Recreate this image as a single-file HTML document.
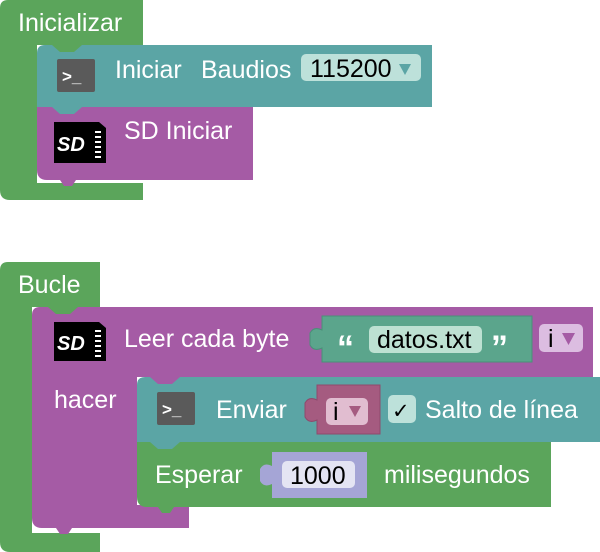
<!DOCTYPE html>
<html><head><meta charset="utf-8"><style>
html,body{margin:0;padding:0;background:#fff;}
svg{display:block;}
text{font-family:"Liberation Sans",sans-serif;font-size:25px;fill:#fff;}
.d{fill:#000;}
</style></head><body>
<svg width="600" height="552" viewBox="0 0 600 552" xmlns="http://www.w3.org/2000/svg">
<!-- Inicializar -->
<path d="M8 0 H143 V45 H37 V183 H143 V200 H10 Q0 200 0 190 V8 Q0 0 8 0Z" fill="#5ba55b"/>
<text x="18" y="31">Inicializar</text>
<!-- teal Iniciar -->
<path d="M45 45 H432 V107 H37 V53 Q37 45 45 45Z" fill="#5ba5a5"/>
<polygon points="52,45 82,45 74,52 60,52" fill="#5ba55b"/>
<rect x="57" y="59" width="38" height="33" rx="2" fill="#5a5a5a"/>
<text x="62" y="82" style="font-size:17px;font-weight:bold">&gt;_</text>
<text x="115" y="78">Iniciar</text>
<text x="201" y="78">Baudios</text>
<rect x="301" y="54" width="120" height="27" rx="5" fill="#bde1da"/>
<text x="310" y="77" class="d">115200</text>
<polygon points="399,64 411,64 405,75" fill="#5ba5a5"/>
<!-- purple SD Iniciar -->
<path d="M37 107 H253 V180 H47 Q37 180 37 170Z" fill="#a55ba5"/>
<polygon points="52,107 82,107 74,114 60,114" fill="#5ba5a5"/>
<polygon points="60,180 76,180 72,186 64,186" fill="#a55ba5"/>
<path d="M54 122 H99 L106 128 V163 H54Z" fill="#000"/>
<text x="57" y="151" style="font-size:20px;font-weight:bold;font-style:italic">SD</text>
<g fill="#fff"><rect x="95" y="131" width="6" height="2"/><rect x="95" y="136" width="6" height="2"/><rect x="95" y="141" width="6" height="2"/><rect x="95" y="146" width="6" height="2"/><rect x="95" y="151" width="6" height="2"/><rect x="95" y="156" width="6" height="2"/></g>
<text x="124" y="139">SD Iniciar</text>

<!-- Bucle -->
<path d="M8 262 H100 V307 H32 V533 H100 V552 H10 Q0 552 0 542 V270 Q0 262 8 262Z" fill="#5ba55b"/>
<text x="18" y="293">Bucle</text>
<!-- purple Leer -->
<path d="M40 307 H593 V377 H137 V505 H189 V528 H42 Q32 528 32 518 V315 Q32 307 40 307Z" fill="#a55ba5"/>
<polygon points="48,307 78,307 70,314 56,314" fill="#5ba55b"/>
<polygon points="56,528 72,528 68,534 60,534" fill="#a55ba5"/>
<path d="M54 322 H99 L106 328 V361 H54Z" fill="#000"/>
<text x="57" y="350" style="font-size:20px;font-weight:bold;font-style:italic">SD</text>
<g fill="#fff"><rect x="95" y="330" width="6" height="2"/><rect x="95" y="335" width="6" height="2"/><rect x="95" y="340" width="6" height="2"/><rect x="95" y="345" width="6" height="2"/><rect x="95" y="350" width="6" height="2"/><rect x="95" y="355" width="6" height="2"/></g>
<text x="124" y="347">Leer cada byte</text>
<text x="54" y="408">hacer</text>
<!-- string block -->
<path d="M322 316 H532 V362 H322 V348 Q314 352 310 345 V333 Q314 326 322 330Z" fill="#5ba58c" stroke="#4a9078" stroke-width="1"/>
<text x="337" y="359" style="font-size:34px;font-weight:bold">“</text>
<rect x="369" y="326" width="113" height="27" rx="5" fill="#bde1d2"/>
<text x="377" y="348" class="d">datos.txt</text>
<text x="491" y="359" style="font-size:34px;font-weight:bold">”</text>
<rect x="539" y="324" width="44" height="28" rx="5" fill="#dcbde1"/>
<text x="548" y="347" class="d">i</text>
<polygon points="562,333 575,333 568.5,345" fill="#a55ba5"/>
<!-- teal Enviar -->
<path d="M145 377 H600 V442 H137 V385 Q137 377 145 377Z" fill="#5ba5a5"/>
<polygon points="150,377 180,377 172,384 158,384" fill="#a55ba5"/>
<rect x="157" y="392" width="38" height="33" rx="2" fill="#5a5a5a"/>
<text x="162" y="415" style="font-size:17px;font-weight:bold">&gt;_</text>
<text x="216" y="418">Enviar</text>
<path d="M317 385 H380 V434 H317 V420 Q309 424 305 417 V403 Q309 396 317 400Z" fill="#a55b80" stroke="#8f4a6c" stroke-width="1"/>
<rect x="326" y="398" width="42" height="27" rx="5" fill="#e1bdd0"/>
<text x="333" y="420" class="d">i</text>
<polygon points="349,406 361,406 355,417" fill="#a55b80"/>
<rect x="388" y="395" width="28" height="28" rx="5" fill="#bde1da"/>
<text x="392" y="418" class="d" style="font-size:21px">✓</text>
<text x="425" y="418">Salto de línea</text>
<!-- green Esperar -->
<path d="M137 442 H551 V507 H147 Q137 507 137 497Z" fill="#5ba55b"/>
<polygon points="150,442 180,442 172,449 158,449" fill="#5ba5a5"/>
<polygon points="158,507 174,507 170,513 162,513" fill="#5ba55b"/>
<text x="155" y="483">Esperar</text>
<path d="M272 452 H367 V498 H272 V484 Q264 488 260 481 V469 Q264 462 272 466Z" fill="#a5a5d6"/>
<rect x="282" y="461" width="73" height="27" rx="5" fill="#e4e4f3"/>
<text x="290" y="484" class="d">1000</text>
<text x="384" y="483">milisegundos</text>
</svg>
</body></html>
